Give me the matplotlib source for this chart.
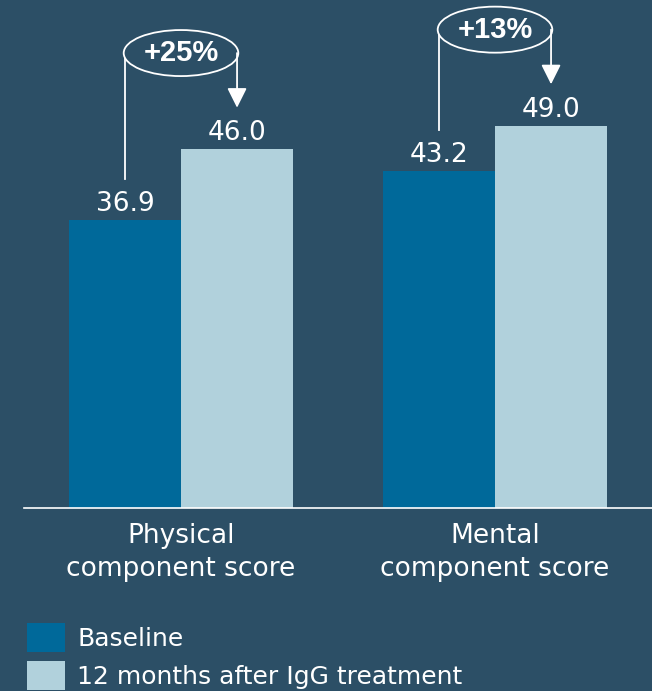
import matplotlib.pyplot as plt
from matplotlib.patches import Ellipse
import numpy as np

# data
categories = ['Physical\ncomponent score', 'Mental\ncomponent score']
baseline = [36.9, 43.2]
after_12m = [46.0, 49.0]
series_names = ['Baseline', '12 months after IgG treatment']

bg = '#2c4f66'
col_base = '#00699a'
col_after = '#b1d1dc'
fs = 19

plt.rcParams['font.family'] = ['DejaVu Sans']

fig = plt.figure(figsize=(6.52, 6.91), dpi=100, facecolor=bg)
ax = fig.add_axes([24 / 652, 183 / 691, 1 - 24 / 652, 508 / 691])
ax.set_facecolor(bg)

x = np.arange(len(categories))
w = 0.357
b1 = ax.bar(x - w / 2, baseline, w, color=col_base, label=series_names[0])
b2 = ax.bar(x + w / 2, after_12m, w, color=col_after, label=series_names[1])

ax.bar_label(b1, fmt='%.1f', padding=2, color='white', fontsize=fs)
ax.bar_label(b2, fmt='%.1f', padding=2, color='white', fontsize=fs)

ax.set_xlim(-0.5, 1.5)
ax.set_ylim(0, 65.1)

for s in ['top', 'left', 'right']:
    ax.spines[s].set_visible(False)
ax.spines['bottom'].set_color('white')
ax.spines['bottom'].set_linewidth(1.2)
ax.set_yticks([])
ax.set_xticks(x)
ax.set_xticklabels(categories, color='white', fontsize=fs, linespacing=1.33)
ax.tick_params(axis='x', length=0, pad=11)

# change annotations
for i in range(len(categories)):
    xl = x[i] - w / 2
    xr = x[i] + w / 2
    ey = after_12m[i] + 12.3
    pct = round((after_12m[i] - baseline[i]) / baseline[i] * 100)
    ax.plot([xl, xl], [baseline[i] + 5.2, ey], color='white', lw=1.3)
    ax.add_patch(Ellipse((x[i], ey), w + 0.008, 5.9, facecolor=bg,
                         edgecolor='white', lw=1.3, zorder=3))
    ax.annotate('', xy=(xr, after_12m[i] + 5.3), xytext=(xr, ey),
                arrowprops=dict(arrowstyle='-|>,head_length=0.6,head_width=0.3',
                                color='white', lw=1.3, mutation_scale=20,
                                shrinkA=0, shrinkB=0))
    ax.text(x[i], ey, '+%d%%' % pct, ha='center', va='center', color='white',
            fontsize=21, fontweight='bold', family='Liberation Sans', zorder=4)

leg = fig.legend(loc='upper left', bbox_to_anchor=(27 / 652, 1 - 623 / 691),
                 frameon=False, fontsize=18, handlelength=1.52, handleheight=1.4,
                 handletextpad=0.48, labelspacing=0.36, borderpad=0, borderaxespad=0)
for t in leg.get_texts():
    t.set_color('white')

fig.savefig('out.png', dpi=100, facecolor=bg)
